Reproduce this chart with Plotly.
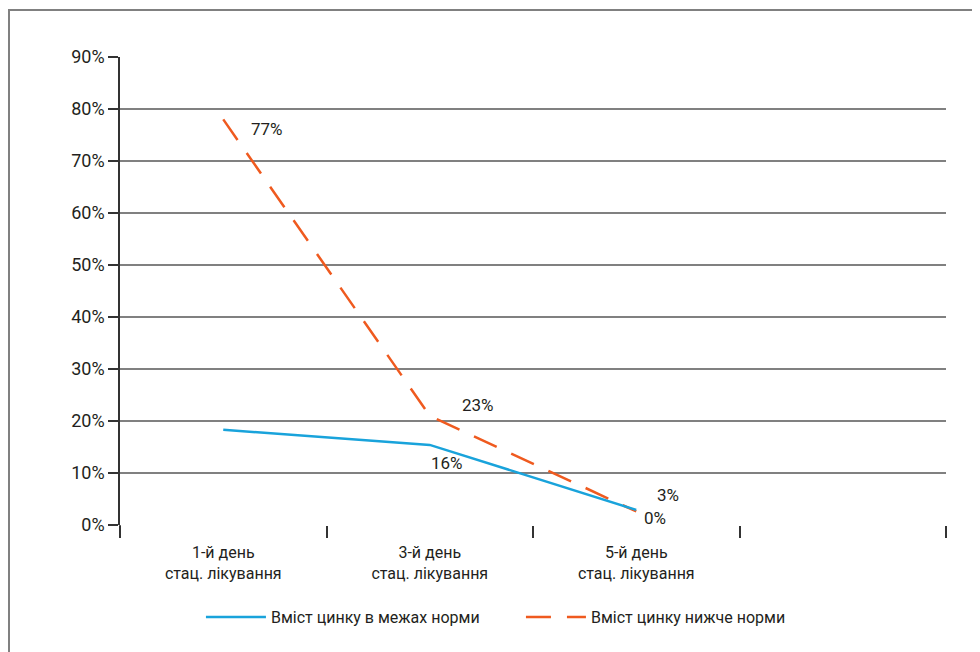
import plotly.graph_objects as go

categories = ["1-й день<br>стац. лікування", "3-й день<br>стац. лікування", "5-й день<br>стац. лікування", " "]
series_names = ["Вміст цинку в межах норми", "Вміст цинку нижче норми"]
normal_values = [18.3, 15.4, 2.9]
below_values = [78, 21, 2.6]
label_texts_below = ["77%", "23%", "0%"]
label_texts_normal = ["", "16%", "3%"]
y_ticks = [0, 10, 20, 30, 40, 50, 60, 70, 80, 90]
y_tick_labels = [f"{v}%" for v in y_ticks]

BLUE = "#19a3db"
ORANGE = "#ef5a1f"
TXT = "#231f20"
FONT = "Roboto, 'Open Sans', sans-serif"

fig = go.Figure()
# orange drawn first so the blue line sits on top where they coincide
fig.add_trace(go.Scatter(
    x=categories[:3], y=below_values, mode="lines", name=series_names[1],
    line=dict(color=ORANGE, width=2.5, dash="25px,16px"),
))
fig.add_trace(go.Scatter(
    x=categories[:3], y=normal_values, mode="lines", name=series_names[0],
    line=dict(color=BLUE, width=2.5),
))

# data labels
offsets_below = [(44, -10), (48, 11), (19, -7)]
offsets_normal = [(0, 0), (17, -18), (32, 15)]
for i in range(3):
    dx, dy = offsets_below[i]
    fig.add_annotation(x=categories[i], y=below_values[i], text=label_texts_below[i],
                       showarrow=False, xshift=dx, yshift=dy,
                       font=dict(family=FONT, size=17, color=TXT))
    if label_texts_normal[i]:
        dx, dy = offsets_normal[i]
        fig.add_annotation(x=categories[i], y=normal_values[i], text=label_texts_normal[i],
                           showarrow=False, xshift=dx, yshift=dy,
                           font=dict(family=FONT, size=17, color=TXT))

# layout geometry (page has an 8px body margin)
L, R, T, B = 112, 42, 49, 135
W, H = 980, 652
pw, ph = W - L - R, H - T - B
fig.add_shape(type="rect", xref="paper", yref="paper",
              x0=(1 - L) / pw, x1=1.2, y0=-0.6, y1=1 + (T - 2) / ph,
              line=dict(color="#808080", width=2), layer="below")

fig.update_layout(
    width=W, height=H,
    margin=dict(l=L, r=R, t=T, b=B),
    paper_bgcolor="white", plot_bgcolor="white",
    font=dict(family=FONT, size=16, color=TXT),
    showlegend=True,
    legend=dict(orientation="h", x=0.098, xanchor="left", y=-0.197, yanchor="middle",
                traceorder="reversed",
                font=dict(family=FONT, size=16, color=TXT), itemwidth=60,
                entrywidth=245, entrywidthmode="pixels",
                bgcolor="rgba(0,0,0,0)"),
    xaxis=dict(
        type="category", categoryorder="array", categoryarray=categories,
        range=[-0.5, 3.5], tickson="boundaries", ticks="outside", ticklen=12,
        tickcolor="#333333", tickwidth=1.5, ticklabelstandoff=16,
        showgrid=False, showline=False, zeroline=False,
        tickfont=dict(family=FONT, size=16, color=TXT),
    ),
    yaxis=dict(
        range=[0, 90], tickvals=y_ticks, ticktext=y_tick_labels,
        ticks="outside", ticklen=10, tickcolor="#333333", tickwidth=1.5,
        showgrid=True, gridcolor="#808080", gridwidth=1.5,
        showline=True, linecolor="#333333", linewidth=1.5,
        zeroline=False, tickfont=dict(family=FONT, size=18, color=TXT),
    ),
)
fig.add_shape(type="line", xref="paper", yref="paper", x0=0, x1=0, y0=-12 / ph, y1=0,
              line=dict(color="#333333", width=1.5))

fig.write_html("out.html")
